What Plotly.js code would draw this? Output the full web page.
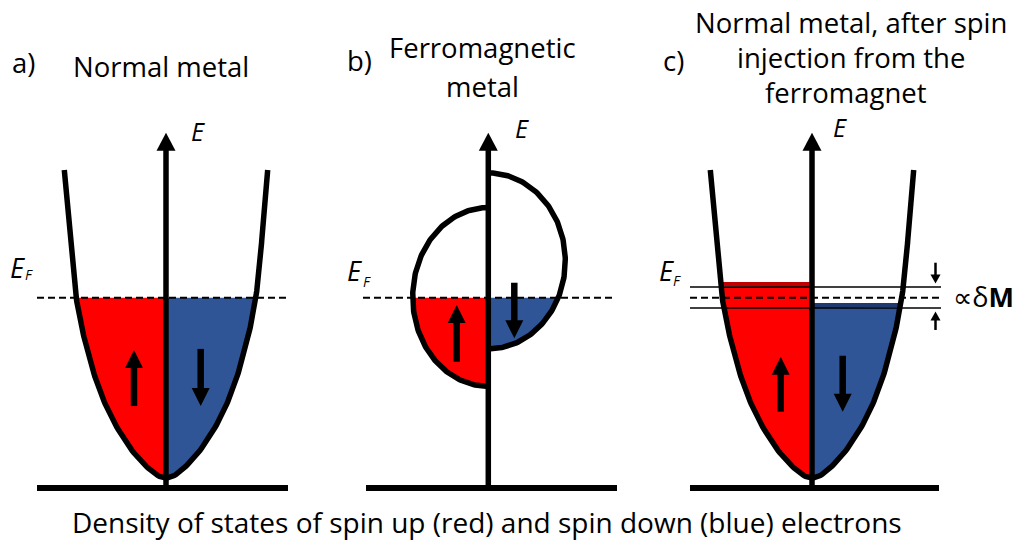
<!DOCTYPE html>
<html>
<head>
<meta charset="utf-8">
<script src="https://cdn.plot.ly/plotly-3.0.1.min.js"></script>
<style>
  html, body { margin: 0; padding: 0; background: #ffffff; }
  #chart { width: 1019px; height: 542px; }
</style>
</head>
<body>
<div id="chart"></div>
<script>
// ---------------- values ----------------
// Energies are in units of the Fermi energy, measured from the band bottom.
// DOS is in arbitrary units; spin up is drawn to the left, spin down to the right.
const fermiLevel = 1.0;

// normal metal: parabolic density of states
const nmEnergy = [0, 0.10, 0.283, 0.471, 0.654, 0.837, 1.0, 1.209, 1.392, 1.708];
const nmDos    = [0, 0.26, 0.493, 0.653, 0.760, 0.843, 0.898, 0.943, 0.967, 1.017];

// ferromagnet: exchange-split bands [spin up, spin down]
const fmBandCenter    = [1.004, 1.204];
const fmBandHalfWidth = [0.496, 0.488];
const fmDosPeak       = [0.756, 0.770];

// normal metal after spin injection [spin up, spin down]
const injOccupied    = [1.087, 0.971];  // top of the occupied states
const injSplitLevels = [1.059, 0.943];  // split quasi-Fermi levels

const panelLabels = ['a)', 'b)', 'c)'];
const panelTitles = [
  ['Normal metal'],
  ['Ferromagnetic', 'metal'],
  ['Normal metal, after spin', 'injection from the', 'ferromagnet']
];
const energyLabel = 'E';
const fermiLabel = ['E', 'F'];
const splitLabel = '∝δ<b>M</b>';
const bottomCaption = 'Density of states of spin up (red) and spin down (blue) electrons';

// ---------------- geometry & style ----------------
const W = 1019, H = 542;
const PX_X = 100;       // pixels per DOS unit
const PX_E = 180.3;     // pixels per energy unit
const E_ZERO_PX = 478;  // vertical pixel of the band bottom

const RED = '#ff0000', BLUE = '#2f5597';
const RED_DARK = '#c00000', BLUE_DARK = '#1f3a6e';
const FONT = 'Open Sans, Noto Sans, DejaVu Sans, sans-serif';
const TITLE_SIZE = 27.5;

const panels = [
  { xa: 'x',  axis: 'xaxis',  px0: 0,   px1: 330,  axisPx: 166 },
  { xa: 'x2', axis: 'xaxis2', px0: 330, px1: 650,  axisPx: 488.3 },
  { xa: 'x3', axis: 'xaxis3', px0: 650, px1: 1019, axisPx: 812 }
];

const eBase = (E_ZERO_PX - 488) / PX_E;   // baseline under each diagram
const eAxisTip = 1.915;

// Catmull-Rom smoothing in pixel space, so curves and fills share one outline
function smoothCurve(xs, es, n) {
  const P = xs.map((x, i) => [x * PX_X, es[i] * PX_E]);
  const out = [];
  for (let i = 0; i < P.length - 1; i++) {
    const p0 = P[Math.max(i - 1, 0)], p1 = P[i], p2 = P[i + 1], p3 = P[Math.min(i + 2, P.length - 1)];
    for (let k = 0; k < n; k++) {
      const t = k / n, t2 = t * t, t3 = t2 * t;
      const c = (a, b, cc, d) => 0.5 * (2 * b + (-a + cc) * t + (2 * a - 5 * b + 4 * cc - d) * t2 + (-a + 3 * b - 3 * cc + d) * t3);
      out.push([c(p0[0], p1[0], p2[0], p3[0]), c(p0[1], p1[1], p2[1], p3[1])]);
    }
  }
  out.push(P[P.length - 1]);
  return out.map(p => [p[0] / PX_X, p[1] / PX_E]);
}

// region of one band side (ordered from its lowest energy upwards) between two energies
function clipBetween(side, eLo, eHi) {
  const poly = [];
  const cross = (a, b, lev) => {
    const f = (lev - a[1]) / (b[1] - a[1]);
    return [a[0] + f * (b[0] - a[0]), lev];
  };
  if (side[0][1] >= eLo) poly.push([0, side[0][1]]);
  else poly.push([0, eLo]);
  for (let i = 0; i < side.length; i++) {
    const p = side[i];
    const prev = side[i - 1];
    if (prev && prev[1] < eLo && p[1] >= eLo) poly.push(cross(prev, p, eLo));
    if (p[1] >= eLo && p[1] <= eHi) poly.push(p);
    if (prev && prev[1] <= eHi && p[1] > eHi) { poly.push(cross(prev, p, eHi)); break; }
  }
  poly.push([0, Math.min(eHi, side[side.length - 1][1])]);
  return poly;
}

const traces = [];
function fillTrace(xa, poly, color) {
  traces.push({
    type: 'scatter', mode: 'lines', xaxis: xa, yaxis: 'y',
    x: poly.map(p => p[0]), y: poly.map(p => p[1]),
    fill: 'toself', fillcolor: color, line: { width: 0, color: color },
    hoverinfo: 'skip', showlegend: false
  });
}
function strokeTrace(xa, pts, width) {
  traces.push({
    type: 'scatter', mode: 'lines', xaxis: xa, yaxis: 'y',
    x: pts.map(p => p[0]), y: pts.map(p => p[1]),
    line: { color: '#000000', width: width },
    hoverinfo: 'skip', showlegend: false
  });
}

// parabolic DOS, from the top of the spin-up side, through the bottom, to the top of the spin-down side
const parX = [], parE = [];
for (let i = nmEnergy.length - 1; i >= 0; i--) { parX.push(-nmDos[i]); parE.push(nmEnergy[i]); }
for (let i = 1; i < nmEnergy.length; i++) { parX.push(nmDos[i]); parE.push(nmEnergy[i]); }
const parabola = smoothCurve(parX, parE, 16);
const mid = parabola.findIndex(p => p[1] === 0 && p[0] === 0);
const parUp = parabola.slice(0, mid + 1).reverse();
const parDown = parabola.slice(mid);

// a) normal metal
fillTrace('x', clipBetween(parUp, -1, fermiLevel), RED);
fillTrace('x', clipBetween(parDown, -1, fermiLevel), BLUE);
strokeTrace('x', parabola, 5.5);

// b) ferromagnet: two semi-elliptic bands
[0, 1].forEach(s => {
  const sign = s === 0 ? -1 : 1;
  const pts = [];
  for (let k = 0; k <= 160; k++) {
    const t = Math.PI * k / 160;
    pts.push([sign * fmDosPeak[s] * Math.sin(t), fmBandCenter[s] - fmBandHalfWidth[s] * Math.cos(t)]);
  }
  fillTrace('x2', clipBetween(pts, -1, fermiLevel), s === 0 ? RED : BLUE);
  strokeTrace('x2', pts, 5.5);
});

// c) normal metal with spin accumulation
fillTrace('x3', clipBetween(parUp, -1, injSplitLevels[0]), RED);
fillTrace('x3', clipBetween(parUp, injSplitLevels[0], injOccupied[0]), RED_DARK);
fillTrace('x3', clipBetween(parDown, -1, injSplitLevels[1]), BLUE);
fillTrace('x3', clipBetween(parDown, injSplitLevels[1], injOccupied[1]), BLUE_DARK);
strokeTrace('x3', parabola, 5.5);

// ---------------- shapes ----------------
const shapes = [];
function hline(xa, e, x0, x1, width, dash) {
  shapes.push({ type: 'line', xref: xa, yref: 'y', x0: x0, x1: x1, y0: e, y1: e, layer: 'above',
                line: { color: '#000000', width: width, dash: dash || 'solid' } });
}
function arrow(xa, x, eTail, eTip, shaftPx, headWPx, headLPx) {
  const dir = eTip > eTail ? 1 : -1;
  const eHead = eTip - dir * headLPx / PX_E;
  const hw = headWPx / 2 / PX_X;
  shapes.push({ type: 'line', xref: xa, yref: 'y', x0: x, x1: x, y0: eTail, y1: eHead + dir * 1 / PX_E,
                layer: 'above', line: { color: '#000000', width: shaftPx } });
  shapes.push({ type: 'path', xref: xa, yref: 'y', layer: 'above',
                path: `M ${x - hw},${eHead} L ${x + hw},${eHead} L ${x},${eTip} Z`,
                fillcolor: '#000000', line: { width: 0 } });
}

// frames: energy axis, baseline and Fermi level
const frame = [
  { lo: -1.29, hi: 1.22, dlo: -1.29, dhi: 1.22 },
  { lo: -1.223, hi: 1.287, dlo: -1.253, dhi: 1.267 },
  { lo: -1.22, hi: 1.27, dlo: -1.22, dhi: 1.28 }
];
panels.forEach((p, i) => {
  hline(p.xa, eBase, frame[i].lo, frame[i].hi, 6);
  arrow(p.xa, 0, eBase, eAxisTip, 5.5, 19, 18);
  hline(p.xa, fermiLevel, frame[i].dlo, frame[i].dhi, 2, '7px,4px');
});

// spin arrows
arrow('x', -0.32, 0.399, 0.710, 6.5, 18, 18);
arrow('x', 0.347, 0.716, 0.399, 6.5, 18, 18);
arrow('x2', -0.316, 0.645, 0.960, 6.5, 18, 18);
arrow('x2', 0.26, 1.083, 0.775, 6.5, 18, 18);
arrow('x3', -0.313, 0.368, 0.673, 6.5, 18, 18);
arrow('x3', 0.307, 0.678, 0.368, 6.5, 18, 18);

// split quasi-Fermi levels and the markers of their separation
injSplitLevels.forEach(e => hline('x3', e, -1.22, 1.29, 1.5));
arrow('x3', 1.235, 1.194, injSplitLevels[0] + 0.02, 2.5, 10, 9);
arrow('x3', 1.235, 0.821, injSplitLevels[1] - 0.02, 2.5, 10, 9);

// ---------------- text ----------------
const annotations = [];
function text(t, xpx, ypx, size, opts) {
  annotations.push(Object.assign({
    text: t, x: xpx / W, y: 1 - ypx / H, xref: 'paper', yref: 'paper',
    xanchor: 'center', yanchor: 'middle', showarrow: false,
    font: { family: FONT, size: size, color: '#000000' }
  }, opts || {}));
}

text(panelLabels[0], 10, 62, TITLE_SIZE, { xanchor: 'left' });
text(panelLabels[1], 345, 60, TITLE_SIZE, { xanchor: 'left' });
text(panelLabels[2], 661, 60, TITLE_SIZE, { xanchor: 'left' });

text(panelTitles[0][0], 161.3, 66, TITLE_SIZE);
text(panelTitles[1][0], 482, 47, TITLE_SIZE);
text(panelTitles[1][1], 482, 86.5, TITLE_SIZE);
text(panelTitles[2][0], 850.5, 23, TITLE_SIZE);
text(panelTitles[2][1], 850.5, 57.5, TITLE_SIZE);
text(panelTitles[2][2], 846, 92, TITLE_SIZE);

const eLabelPos = [[197.5, 131.3], [521.5, 128.3], [840, 127.5]];
eLabelPos.forEach(p => text('<i>' + energyLabel + '</i>', p[0], p[1], 25));

const efPos = [[[17.5, 267.5], [29, 274.5]], [[354.5, 270.5], [366.5, 281]], [[666, 270.5], [676.5, 280]]];
efPos.forEach(p => {
  text('<i>' + fermiLabel[0] + '</i>', p[0][0], p[0][1], 27);
  text('<i>' + fermiLabel[1] + '</i>', p[1][0], p[1][1], 14);
});

text(splitLabel, 983, 296, 27);
text(bottomCaption, 486.5, 522, 28);

// ---------------- layout ----------------
const layout = {
  width: W, height: H,
  margin: { l: 0, r: 0, t: 0, b: 0, pad: 0 },
  paper_bgcolor: '#ffffff', plot_bgcolor: 'rgba(0,0,0,0)',
  showlegend: false,
  yaxis: { visible: false, range: [(E_ZERO_PX - H) / PX_E, E_ZERO_PX / PX_E], domain: [0, 1], anchor: 'x', fixedrange: true },
  shapes: shapes,
  annotations: annotations
};
panels.forEach(p => {
  layout[p.axis] = {
    visible: false, fixedrange: true, anchor: 'y',
    domain: [p.px0 / W, p.px1 / W],
    range: [(p.px0 - p.axisPx) / PX_X, (p.px1 - p.axisPx) / PX_X]
  };
});

Plotly.newPlot('chart', traces, layout, { staticPlot: true, displayModeBar: false });
</script>
</body>
</html>
